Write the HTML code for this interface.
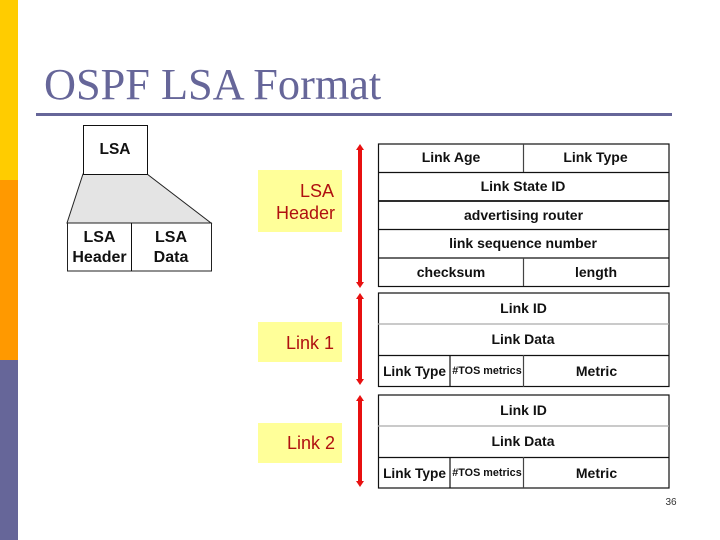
<!DOCTYPE html>
<html><head><meta charset="utf-8"><style>
html,body{margin:0;padding:0;background:#fff}
svg{display:block}
text{font-family:"Liberation Sans",sans-serif}
.b{font-weight:bold;fill:#111;text-anchor:middle;font-size:14px}
.r{fill:#b01010;font-size:18px}
</style></head><body>
<svg width="720" height="540" viewBox="0 0 720 540" xmlns="http://www.w3.org/2000/svg">
<rect width="720" height="540" fill="#fff"/>
<rect width="18" height="180" fill="#ffcc00"/>
<rect y="180" width="18" height="180" fill="#ff9900"/>
<rect y="360" width="18" height="180" fill="#666699"/>
<text x="44" y="99" font-size="44.3" fill="#666699" style="font-family:'Liberation Serif',serif">OSPF LSA Format</text>
<rect x="36" y="113" width="636" height="3" fill="#666699"/>

<polygon points="83,174 147,174 211,223 67,223" fill="#e4e4e4" stroke="#222" stroke-width="1"/>
<rect x="83.5" y="125.5" width="64" height="49" fill="#fff" stroke="#111" stroke-width="1"/>
<rect x="67.5" y="223" width="144" height="48" fill="#fff" stroke="#222" stroke-width="1"/>
<line x1="131.5" y1="223" x2="131.5" y2="271" stroke="#111"/>
<text class="b" x="115" y="154" style="font-size:15.5px">LSA</text>
<text class="b" x="99.5" y="242" style="font-size:16px">LSA</text>
<text class="b" x="99.5" y="262" style="font-size:16px">Header</text>
<text class="b" x="171" y="242" style="font-size:16px">LSA</text>
<text class="b" x="171" y="262" style="font-size:16px">Data</text>

<rect x="258" y="170" width="84" height="62" fill="#ffff99"/>
<rect x="258" y="322" width="84" height="40" fill="#ffff99"/>
<rect x="258" y="423" width="84" height="40" fill="#ffff99"/>
<text class="r" x="334" y="197" text-anchor="end">LSA</text>
<text class="r" x="335" y="219" text-anchor="end">Header</text>
<text class="r" x="334" y="349" text-anchor="end">Link 1</text>
<text class="r" x="335" y="449" text-anchor="end">Link 2</text>

<g fill="#e81010">
<rect x="358" y="148" width="4" height="136"/>
<polygon points="360,144 364,150 356,150"/><polygon points="360,288 364,282 356,282"/>
<rect x="358" y="297" width="4" height="84"/>
<polygon points="360,293 364,299 356,299"/><polygon points="360,385 364,379 356,379"/>
<rect x="358" y="399" width="4" height="84"/>
<polygon points="360,395 364,401 356,401"/><polygon points="360,487 364,481 356,481"/>
</g>

<g fill="none" stroke="#111" stroke-width="1.2">
<rect x="378.5" y="144" width="290.5" height="142.5"/>
<line x1="378" y1="172.5" x2="669" y2="172.5"/>
<line x1="378" y1="201" x2="669" y2="201" stroke-width="1.8"/>
<line x1="378" y1="229.5" x2="669" y2="229.5"/>
<line x1="378" y1="258" x2="669" y2="258"/>
<line x1="523.5" y1="144" x2="523.5" y2="172" stroke="#444"/>
<line x1="523.5" y1="258" x2="523.5" y2="286" stroke="#444"/>
<rect x="378.5" y="293" width="290.5" height="93.5"/>
<line x1="378" y1="324" x2="669" y2="324" stroke="#aaa"/>
<line x1="378" y1="355.5" x2="669" y2="355.5"/>
<line x1="450" y1="355" x2="450" y2="387"/>
<line x1="523.5" y1="355" x2="523.5" y2="387" stroke="#444"/>
<rect x="378.5" y="395" width="290.5" height="93"/>
<line x1="378" y1="426" x2="669" y2="426" stroke="#aaa"/>
<line x1="378" y1="457.5" x2="669" y2="457.5"/>
<line x1="450" y1="457" x2="450" y2="488"/>
<line x1="523.5" y1="457" x2="523.5" y2="488" stroke="#444"/>
</g>
<text class="b" x="451" y="162">Link Age</text>
<text class="b" x="595.5" y="162">Link Type</text>
<text class="b" x="523" y="191">Link State ID</text>
<text class="b" x="523.5" y="220">advertising router</text>
<text class="b" x="523" y="248">link sequence number</text>
<text class="b" x="451" y="277">checksum</text>
<text class="b" x="596" y="277">length</text>

<text class="b" x="523.5" y="313">Link ID</text>
<text class="b" x="523" y="344">Link Data</text>
<text class="b" x="414.5" y="376" style="font-size:13.7px">Link Type</text>
<text class="b" x="487" y="374" style="font-size:10.8px">#TOS metrics</text>
<text class="b" x="596.5" y="376">Metric</text>

<text class="b" x="523.5" y="415">Link ID</text>
<text class="b" x="523" y="446">Link Data</text>
<text class="b" x="414.5" y="478" style="font-size:13.7px">Link Type</text>
<text class="b" x="487" y="476" style="font-size:10.8px">#TOS metrics</text>
<text class="b" x="596.5" y="478">Metric</text>

<text x="671" y="505" font-size="10" fill="#333" text-anchor="middle">36</text>
</svg>
</body></html>
